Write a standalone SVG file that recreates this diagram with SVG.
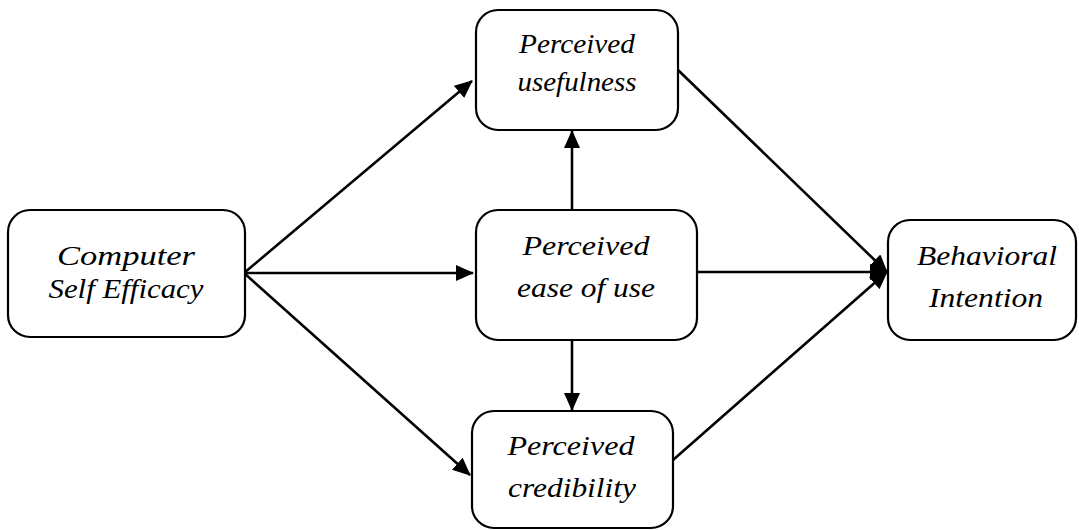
<svg xmlns="http://www.w3.org/2000/svg" width="1079" height="530" viewBox="0 0 1079 530">
<style>
.box{fill:#fff;stroke:#000;stroke-width:2.2}
.c{stroke:#000;stroke-width:2.6;fill:none;marker-end:url(#ah)}
.t{font-family:'Liberation Serif','DejaVu Serif',serif;font-style:italic;font-size:28px;fill:#000;text-anchor:middle}
</style>
<defs>
<marker id="ah" viewBox="0 0 18 16" refX="17" refY="8" markerWidth="18" markerHeight="16" markerUnits="userSpaceOnUse" orient="auto">
<path d="M0,0 L18,8 L0,16 z" fill="#000"/>
</marker>
</defs>
<rect width="1079" height="530" fill="#fff"/>
<g id="connectors">
<line class="c" x1="244" y1="273" x2="472" y2="81"/>
<line class="c" x1="244" y1="273" x2="473" y2="273"/>
<line class="c" x1="244" y1="273" x2="470" y2="475"/>
<line class="c" x1="572" y1="210" x2="572" y2="131"/>
<line class="c" x1="572" y1="340" x2="572" y2="410"/>
<line class="c" x1="678" y1="70" x2="887" y2="272"/>
<line class="c" x1="698" y1="272" x2="887" y2="272"/>
<line class="c" x1="673" y1="460" x2="887" y2="272"/>
</g>
<g id="cse">
<rect class="box" x="8" y="210" width="237" height="127" rx="22"/>
<text class="t" x="126" y="265" textLength="138" lengthAdjust="spacingAndGlyphs">Computer</text>
<text class="t" x="126" y="298" textLength="155" lengthAdjust="spacingAndGlyphs">Self Efficacy</text>
</g>
<g id="pu">
<rect class="box" x="476" y="10" width="202" height="120" rx="22"/>
<text class="t" x="577" y="53" font-size="26" textLength="116" lengthAdjust="spacingAndGlyphs">Perceived</text>
<text class="t" x="577" y="91" font-size="26" textLength="119" lengthAdjust="spacingAndGlyphs">usefulness</text>
</g>
<g id="peou">
<rect class="box" x="476" y="210" width="221" height="130" rx="22"/>
<text class="t" x="586" y="255" textLength="127" lengthAdjust="spacingAndGlyphs">Perceived</text>
<text class="t" x="586" y="297" textLength="138" lengthAdjust="spacingAndGlyphs">ease of use</text>
</g>
<g id="pc">
<rect class="box" x="472" y="411" width="201" height="117" rx="22"/>
<text class="t" x="571" y="455" textLength="127" lengthAdjust="spacingAndGlyphs">Perceived</text>
<text class="t" x="572" y="497" textLength="128" lengthAdjust="spacingAndGlyphs">credibility</text>
</g>
<g id="bi">
<rect class="box" x="888" y="220" width="188" height="120" rx="22"/>
<text class="t" x="987" y="265" textLength="140" lengthAdjust="spacingAndGlyphs">Behavioral</text>
<text class="t" x="986" y="307" textLength="114" lengthAdjust="spacingAndGlyphs">Intention</text>
</g>
</svg>
